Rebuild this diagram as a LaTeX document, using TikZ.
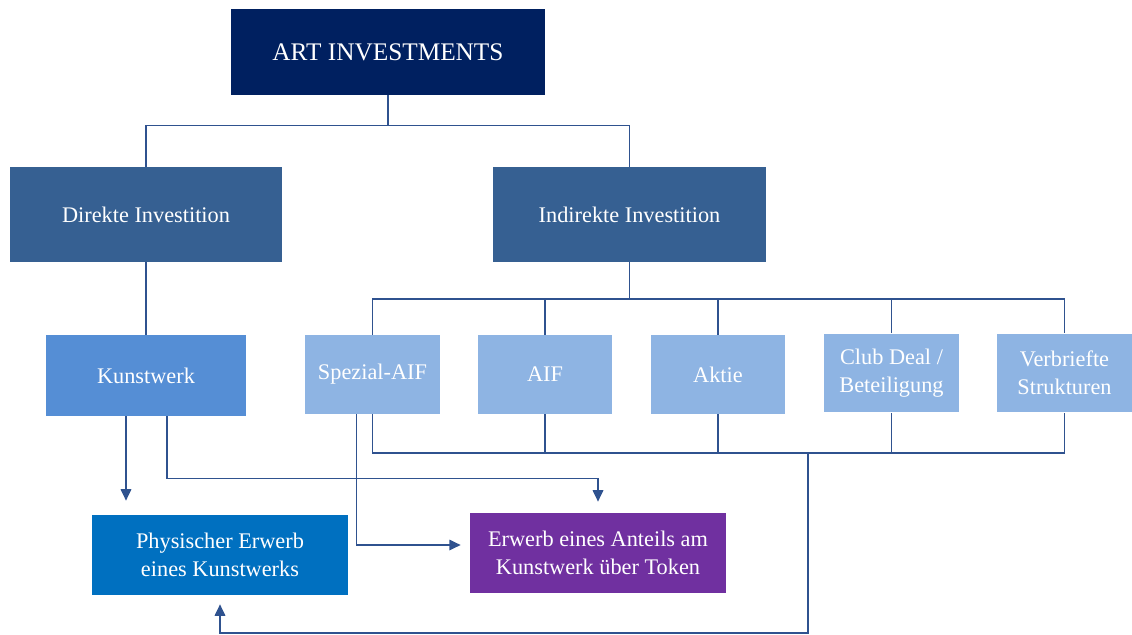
\documentclass[tikz,border=0pt]{standalone}
\usepackage{fontspec}
\setmainfont{Liberation Serif}
\usetikzlibrary{calc,arrows.meta}

\definecolor{artnavy}{RGB}{0,32,96}
\definecolor{levelone}{RGB}{54,96,146}
\definecolor{kunstblue}{RGB}{85,142,213}
\definecolor{vehicle}{RGB}{142,180,227}
\definecolor{physblue}{RGB}{0,112,192}
\definecolor{tokenviolet}{RGB}{112,48,160}
\definecolor{linkblue}{RGB}{47,82,143}

\tikzset{
  box/.style={inner sep=0pt, align=center, text=white, font=\fontsize{12.7}{16}\selectfont},
  vehiclebox/.style={box, fill=vehicle, minimum width=2.7cm, minimum height=1.58cm},
  link/.style={draw=linkblue, line width=0.9pt},
  arr/.style={link, -{Triangle[length=6.5pt,width=6pt]}},
}

\begin{document}
\begin{tikzpicture}[x=0.02cm,y=-0.02cm]
  \useasboundingbox (0,0) rectangle (1132,635);

  % boxes
  \node[box, fill=artnavy, minimum width=6.28cm, minimum height=1.72cm, font=\fontsize{14.4}{17}\selectfont] (art) at (388,52) {ART INVESTMENTS};
  \node[box, fill=levelone, minimum width=5.44cm, minimum height=1.9cm] (direkt) at (146,214.5) {Direkte Investition};
  \node[box, fill=levelone, minimum width=5.46cm, minimum height=1.9cm] (indirekt) at (629.5,214.5) {Indirekte Investition};
  \node[box, fill=kunstblue, minimum width=4cm, minimum height=1.62cm] (kunst) at (146,375.5) {Kunstwerk};
  \node[vehiclebox] (spezial) at (372.5,374.5) {Spezial-AIF};
  \node[vehiclebox] (aif) at (545,374.5) {AIF};
  \node[vehiclebox] (aktie) at (718,374.5) {Aktie};
  \node[vehiclebox] (club) at (891.5,373) {Club Deal /\\Beteiligung};
  \node[vehiclebox] (verbr) at (1064.5,373) {Verbriefte\\Strukturen};
  \node[box, fill=physblue, minimum width=5.12cm, minimum height=1.6cm] (phys) at (220,555) {Physischer Erwerb\\eines Kunstwerks};
  \node[box, fill=tokenviolet, minimum width=5.12cm, minimum height=1.6cm] (token) at (598,553) {Erwerb eines Anteils am\\Kunstwerk über Token};

  % tree lines
  \draw[link] (art.south) -- ++(0,31);
  \draw[link] (direkt.north) -- ++(0,-41) -| (indirekt.north);
  \draw[link] (direkt) -- (kunst);
  \draw[link] (indirekt.south) -- ++(0,37);

  \coordinate (upbus) at (0,299);
  \coordinate (lowbus) at (0,453);
  \draw[link] (spezial.north) -- (spezial.north |- upbus) -- (verbr.north |- upbus) -- (verbr.north);
  \draw[link] (spezial.south) -- (spezial.south |- lowbus) -- (verbr.south |- lowbus) -- (verbr.south);
  \foreach \n in {aif,aktie,club}{
    \draw[link] (\n.north) -- (\n.north |- upbus);
    \draw[link] (\n.south) -- (\n.south |- lowbus);
  }

  % arrows to the two ways of buying
  \coordinate (kleft) at ($(kunst.south)+(-20,0)$);
  \coordinate (kright) at ($(kunst.south)+(21,0)$);
  \coordinate (sleft) at ($(spezial.south)+(-16,0)$);
  \coordinate (tap) at (808,453);
  \draw[arr, shorten >=0.28cm] (kleft) -- (kleft |- phys.north);
  \draw[arr, shorten >=0.22cm] (kright) -- ++(0,62) -| (token.north);
  \draw[arr, shorten >=0.18cm] (sleft) |- ($(token.west)+(0,-8)$);
  \draw[arr, shorten >=0.18cm] (tap) -- ++(0,180) -| (phys.south);
\end{tikzpicture}
\end{document}
